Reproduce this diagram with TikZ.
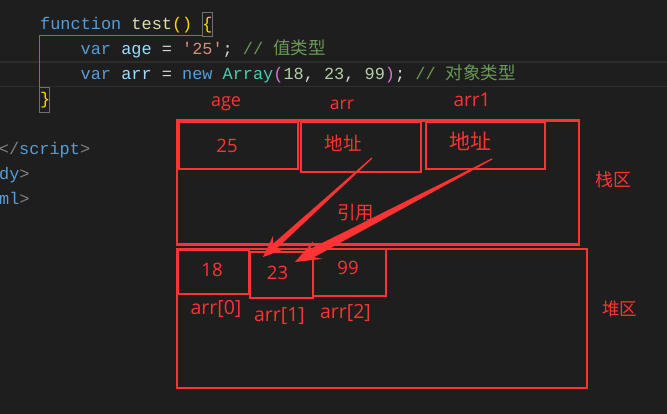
\documentclass[tikz,border=0pt]{standalone}
\usepackage{fontspec}
\setmainfont{Open Sans}
\setmonofont{Liberation Mono}
\newfontfamily\cjk{Noto Sans CJK SC}
\usetikzlibrary{calc}
\definecolor{bg}{HTML}{1E1E1E}
\definecolor{hl}{HTML}{2C2C2C}
\definecolor{kw}{HTML}{569CD6}
\definecolor{fnc}{HTML}{DCDCAA}
\definecolor{gold}{HTML}{FFD700}
\definecolor{vr}{HTML}{9CDCFE}
\definecolor{op}{HTML}{D4D4D4}
\definecolor{str}{HTML}{CE9178}
\definecolor{cm}{HTML}{6A9955}
\definecolor{cls}{HTML}{4EC9B0}
\definecolor{pur}{HTML}{DA70D6}
\definecolor{num}{HTML}{B5CEA8}
\definecolor{tag}{HTML}{808080}
\definecolor{guide}{RGB}{140,118,30}
\definecolor{brbox}{HTML}{707070}
\definecolor{redc}{RGB}{255,51,51}
\newcommand\taperarrow[6]{%
  \coordinate (tB) at ($(#2)!#3!(#1)$);
  \coordinate (tN) at ($(#2)!#4!(#1)$);
  \fill[redc] ($(#1)!0.6pt!90:(#2)$) -- ($(tN)!#6!-90:(#1)$) -- ($(tB)!#5!-90:(#1)$) -- (#2)
     -- ($(tB)!#5!90:(#1)$) -- ($(tN)!#6!90:(#1)$) -- ($(#1)!0.6pt!-90:(#2)$) -- cycle;
}
\begin{document}
\begin{tikzpicture}[x=1pt,y=-1pt,
  code/.style={anchor=base west, inner sep=0pt, font=\ttfamily\fontsize{16.9}{20}\selectfont},
  redbox/.style={draw=redc, line width=2.8pt, inner sep=0pt, rectangle},
  lab/.style={text=redc, inner sep=0pt, anchor=base},
  clab/.style={text=redc, inner sep=0pt, anchor=center}]
\useasboundingbox (0,0) rectangle (667,414);
\fill[bg] (0,0) rectangle (667,414);
\clip (0,0) rectangle (667,414);
% current line highlight
\draw[hl, line width=1.5pt] (0,62) -- (667,62);
\draw[hl, line width=1.5pt] (0,86.5) -- (667,86.5);
% bracket guides
\draw[guide, line width=1pt] (202,36) -- (39.8,36) -- (39.8,87);
\draw[brbox, line width=0.8pt] (202,12) rectangle (212.5,36);
\draw[brbox, line width=0.8pt] (39.8,87) rectangle (49.5,112);
% code
\node[code] (l1) at (40,30) {\color{kw}function \color{fnc}test\color{gold}() \{};
\node[code] (l2) at (80.5,55) {\color{kw}var \color{vr}age \color{op}= \color{str}\symbol{39}25\symbol{39}\color{op}; \color{cm}// {\cjk\fontsize{17.5}{20}\selectfont 值类型}};
\node[code] (l3) at (80.5,80) {\color{kw}var \color{vr}arr \color{op}= \color{kw}new \color{cls}Array\color{pur}(\color{num}18\color{op}, \color{num}23\color{op}, \color{num}99\color{pur})\color{op}; \color{cm}// {\cjk\fontsize{17.5}{20}\selectfont 对象类型}};
\node[code] (l4) at (40,105) {\color{gold}\}};
\node[code] (l5) at (-1.3,155) {\color{tag}</\color{kw}script\color{tag}>};
\node[code] (l6) at (-1,180) {\color{kw}dy\color{tag}>};
\node[code] (l7) at (-1,205) {\color{kw}ml\color{tag}>};
% regions
\node[redbox, minimum width=402pt, minimum height=124pt] (stack) at (378,182.5) {};
\node[redbox, minimum width=410pt, minimum height=139pt] (heap) at (382,318.5) {};
\node[redbox, minimum width=119pt, minimum height=47pt] (box25) at (238.5,145.5) {};
\node[redbox, minimum width=120pt, minimum height=50pt] (boxarr) at (361,147) {};
\node[redbox, minimum width=119pt, minimum height=47pt] (boxarr1) at (485.5,145.5) {};
\node[redbox, minimum width=71pt, minimum height=44pt] (box18) at (213.5,272) {};
\node[redbox, minimum width=63pt, minimum height=46pt] (box23) at (281.5,275) {};
\node[redbox, minimum width=73pt, minimum height=47pt] (box99) at (349.5,272.5) {};
% labels
\node[lab, font=\fontsize{18}{20}\selectfont] (tage) at (226,107) {age};
\node[lab, font=\fontsize{17.5}{20}\selectfont] (tarr) at (342,110) {arr};
\node[lab, font=\fontsize{19}{20}\selectfont] (tarr1) at (472,107) {arr1};
\node[lab, font=\fontsize{18.5}{20}\selectfont] (t25) at (227,152.5) {25};
\node[clab, font=\cjk\fontsize{18.5}{20}\selectfont] (taddr1) at (343,143.5) {地址};
\node[clab, font=\cjk\fontsize{21}{22}\selectfont] (taddr2) at (470,141.5) {地址};
\node[clab, font=\cjk\fontsize{18.5}{20}\selectfont] (tref) at (355.5,213) {引用};
\node[clab, font=\cjk\fontsize{18}{20}\selectfont] (tstack) at (613,180) {栈区};
\node[clab, font=\cjk\fontsize{17.5}{20}\selectfont] (theap) at (619.5,309) {堆区};
\node[lab, font=\fontsize{18.5}{20}\selectfont] (t18) at (212,276.7) {18};
\node[lab, font=\fontsize{18.5}{20}\selectfont] (t23) at (277.5,279.3) {23};
\node[lab, font=\fontsize{18.5}{20}\selectfont] (t99) at (348,275) {99};
\node[lab, font=\fontsize{19.5}{22}\selectfont] (ta0) at (216,315) {arr[0]};
\node[lab, font=\fontsize{19.5}{22}\selectfont] (ta1) at (279.5,321) {arr[1]};
\node[lab, font=\fontsize{19.5}{22}\selectfont] (ta2) at (345.5,318) {arr[2]};
% arrows
\coordinate (a1s) at ($(boxarr.center)+(11,11)$);
\coordinate (a1t) at ($(box23.center)+(-18.5,-18)$);
\coordinate (a2s) at ($(boxarr1.center)+(6.5,13.5)$);
\coordinate (a2t) at ($(box23.center)+(13.5,-13)$);
\taperarrow{a1s}{a1t}{22pt}{16pt}{9pt}{3pt}
\taperarrow{a2s}{a2t}{26pt}{19pt}{10pt}{4.5pt}
\end{tikzpicture}
\end{document}
